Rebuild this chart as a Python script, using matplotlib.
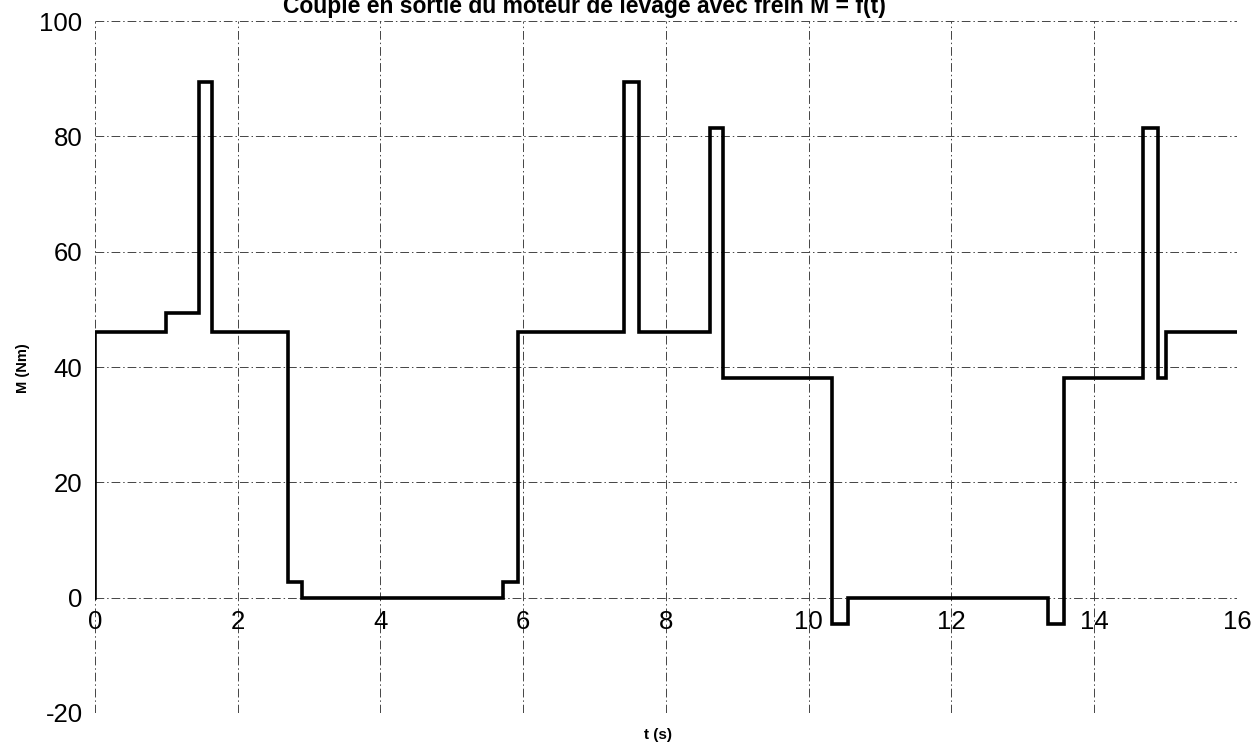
import matplotlib
matplotlib.use("Agg")
import matplotlib.pyplot as plt

# Couple moteur de levage avec frein
t = [0, 0, 1.0, 1.46, 1.64, 2.7, 2.9, 5.72, 5.93, 7.41, 7.62, 8.61, 8.8,
     10.33, 10.55, 13.35, 13.57, 14.69, 14.9, 15.0, 16]
M = [0, 46, 49.3, 89.4, 46, 2.7, 0, 2.7, 46, 89.4, 46, 81.4, 38.1,
     -4.6, 0, -4.6, 38.1, 81.4, 38.1, 46, 46]

x_ticks = [0, 2, 4, 6, 8, 10, 12, 14, 16]
y_ticks = [-20, 0, 20, 40, 60, 80, 100]

plt.rcParams["font.family"] = ["Liberation Sans", "DejaVu Sans"]
plt.rcParams["axes.unicode_minus"] = False

fig = plt.figure(figsize=(12.6, 7.51), dpi=100)
ax = fig.add_axes([0.0754, 0.0506, 0.9063, 0.9214])

ax.plot(t, M, drawstyle="steps-post", color="black", linewidth=2.6,
        solid_joinstyle="miter", zorder=3)

ax.set_xlim(0, 16)
ax.set_ylim(-20, 100)
ax.set_xticks(x_ticks)
ax.set_yticks(y_ticks)
ax.tick_params(axis="both", length=0, labelsize=18.5)
ax.tick_params(axis="y", pad=9)
ax.tick_params(axis="x", pad=9)

# l'axe des abscisses croise en M = 0
ax.spines["bottom"].set_position(("data", 0))
for s in ax.spines.values():
    s.set_visible(False)

ax.grid(True, color="#444444", linewidth=0.7, linestyle=(0, (9, 3, 1.5, 3)))
ax.set_axisbelow(True)

fig.text(0.018, 0.51, "M (Nm)", fontsize=10.5, fontweight="bold",
         rotation=90, ha="center", va="center")
fig.text(0.522, 0.021, "t (s)", fontsize=11, fontweight="bold",
         ha="center", va="center")
fig.text(0.464, 0.983, "Couple en sortie du moteur de levage avec frein M = f(t)",
         fontsize=16.5, fontweight="bold", ha="center", va="baseline")

fig.savefig("out.png", dpi=100)
